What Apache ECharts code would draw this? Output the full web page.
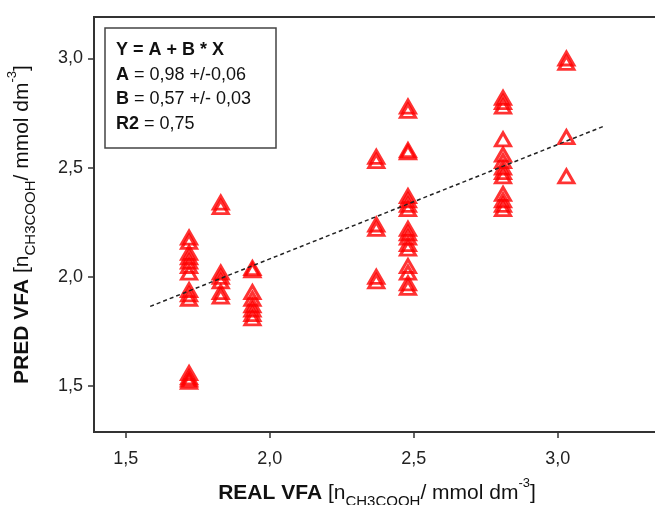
<!DOCTYPE html>
<html>
<head>
<meta charset="utf-8">
<script src="https://cdn.jsdelivr.net/npm/echarts@6/dist/echarts.min.js"></script>
<style>
  html, body { margin: 0; padding: 0; background: #fff; }
  #chart { width: 655px; height: 505px; }
</style>
</head>
<body>
<div id="chart"></div>
<script>
// measured x positions of the point columns (on the drawn axis)
const realVfa = [1.72, 1.83, 1.94, 2.37, 2.48, 2.81, 3.03]
// predicted values for each column
const predVfa = [
  [2.18, 2.16, 2.11, 2.09, 2.07, 2.05, 2.02, 1.94, 1.92, 1.90, 1.56, 1.54, 1.53, 1.52],
  [2.34, 2.32, 2.02, 2.00, 1.98, 1.93, 1.91],
  [2.04, 2.03, 1.93, 1.90, 1.87, 1.85, 1.83, 1.81],
  [2.55, 2.53, 2.24, 2.22, 2.00, 1.98],
  [2.78, 2.76, 2.58, 2.57, 2.37, 2.35, 2.33, 2.31, 2.22, 2.20, 2.18, 2.15, 2.13, 2.05, 2.02, 1.97, 1.95],
  [2.82, 2.80, 2.78, 2.63, 2.56, 2.53, 2.50, 2.48, 2.46, 2.38, 2.35, 2.33, 2.31],
  [3.00, 2.98, 2.64, 2.46]
]
// dashed fit line ends
const fitX = [1.585, 3.16]
const fitY = [1.865, 2.69]
const tickValues = [1.5, 2.0, 2.5, 3.0]
const fitLines = [
  '{b|Y = A + B * X}',
  '{b|A} = 0,98 +/-0,06',
  '{b|B} = 0,57 +/- 0,03',
  '{b|R2} = 0,75'
]

const FONT = 'Liberation Sans, Arial, sans-serif'

const points = []
realVfa.forEach((x, i) => predVfa[i].forEach(y => points.push([x, y])))
const fitData = fitX.map((x, i) => [x, fitY[i]])

const nameRich = {
  b: { fontFamily: FONT, fontSize: 21, fontWeight: 'bold', color: '#111', lineHeight: 32 },
  n: { fontFamily: FONT, fontSize: 21, color: '#111', lineHeight: 32 },
  sub: { fontFamily: FONT, fontSize: 15, color: '#111', lineHeight: 16, verticalAlign: 'bottom' },
  sup: { fontFamily: FONT, fontSize: 13, color: '#111', lineHeight: 14, verticalAlign: 'top' }
}
const unit = '{n| [n}{sub|CH3COOH}{n|/ mmol dm}{sup|-3}{n|]}'
const fmt = v => v.toFixed(1).replace('.', ',')

const chart = echarts.init(document.getElementById('chart'))
chart.setOption({
  animation: false,
  backgroundColor: '#fff',
  title: {
    text: fitLines.join('\n'),
    left: 105,
    top: 28,
    borderColor: '#444',
    borderWidth: 1.5,
    padding: [10, 25, 12, 11],
    textStyle: {
      fontFamily: FONT,
      fontSize: 18,
      fontWeight: 'normal',
      color: '#111',
      lineHeight: 24.5,
      rich: {
        b: { fontFamily: FONT, fontSize: 18, fontWeight: 'bold', color: '#111', lineHeight: 24.5 }
      }
    }
  },
  grid: {
    left: 94, top: 17, right: -5, bottom: 73,
    show: true, borderColor: '#333', borderWidth: 2,
    outerBoundsMode: 'none'
  },
  xAxis: {
    type: 'value',
    min: 1.39,
    max: 3.355,
    name: '{b|REAL VFA}' + unit,
    nameLocation: 'middle',
    nameGap: 45,
    nameTextStyle: { rich: nameRich },
    axisLine: { show: true, onZero: false, lineStyle: { color: '#333', width: 2 } },
    axisTick: { show: true, customValues: tickValues, length: 6, lineStyle: { color: '#333', width: 1.5 } },
    axisLabel: { customValues: tickValues, formatter: fmt, margin: 18, fontFamily: FONT, fontSize: 18, color: '#222' },
    splitLine: { show: false }
  },
  yAxis: {
    type: 'value',
    min: 1.29,
    max: 3.19,
    name: '{b|PRED VFA}' + unit,
    nameLocation: 'middle',
    nameGap: 56,
    nameTextStyle: { rich: nameRich },
    axisLine: { show: true, onZero: false, lineStyle: { color: '#333', width: 2 } },
    axisTick: { show: true, customValues: tickValues, length: 6, lineStyle: { color: '#333', width: 1.5 } },
    axisLabel: { customValues: tickValues, formatter: fmt, margin: 11, fontFamily: FONT, fontSize: 18, color: '#222' },
    splitLine: { show: false }
  },
  series: [
    {
      type: 'scatter',
      data: points,
      symbol: 'triangle',
      symbolSize: [15, 13],
      itemStyle: { color: 'rgba(0,0,0,0)', borderColor: '#ff0000', borderWidth: 3 },
      z: 2
    },
    {
      type: 'line',
      data: fitData,
      showSymbol: false,
      symbol: 'none',
      lineStyle: { color: '#222', width: 1.5, type: [4, 3] },
      z: 3
    }
  ]
})
</script>
</body>
</html>
